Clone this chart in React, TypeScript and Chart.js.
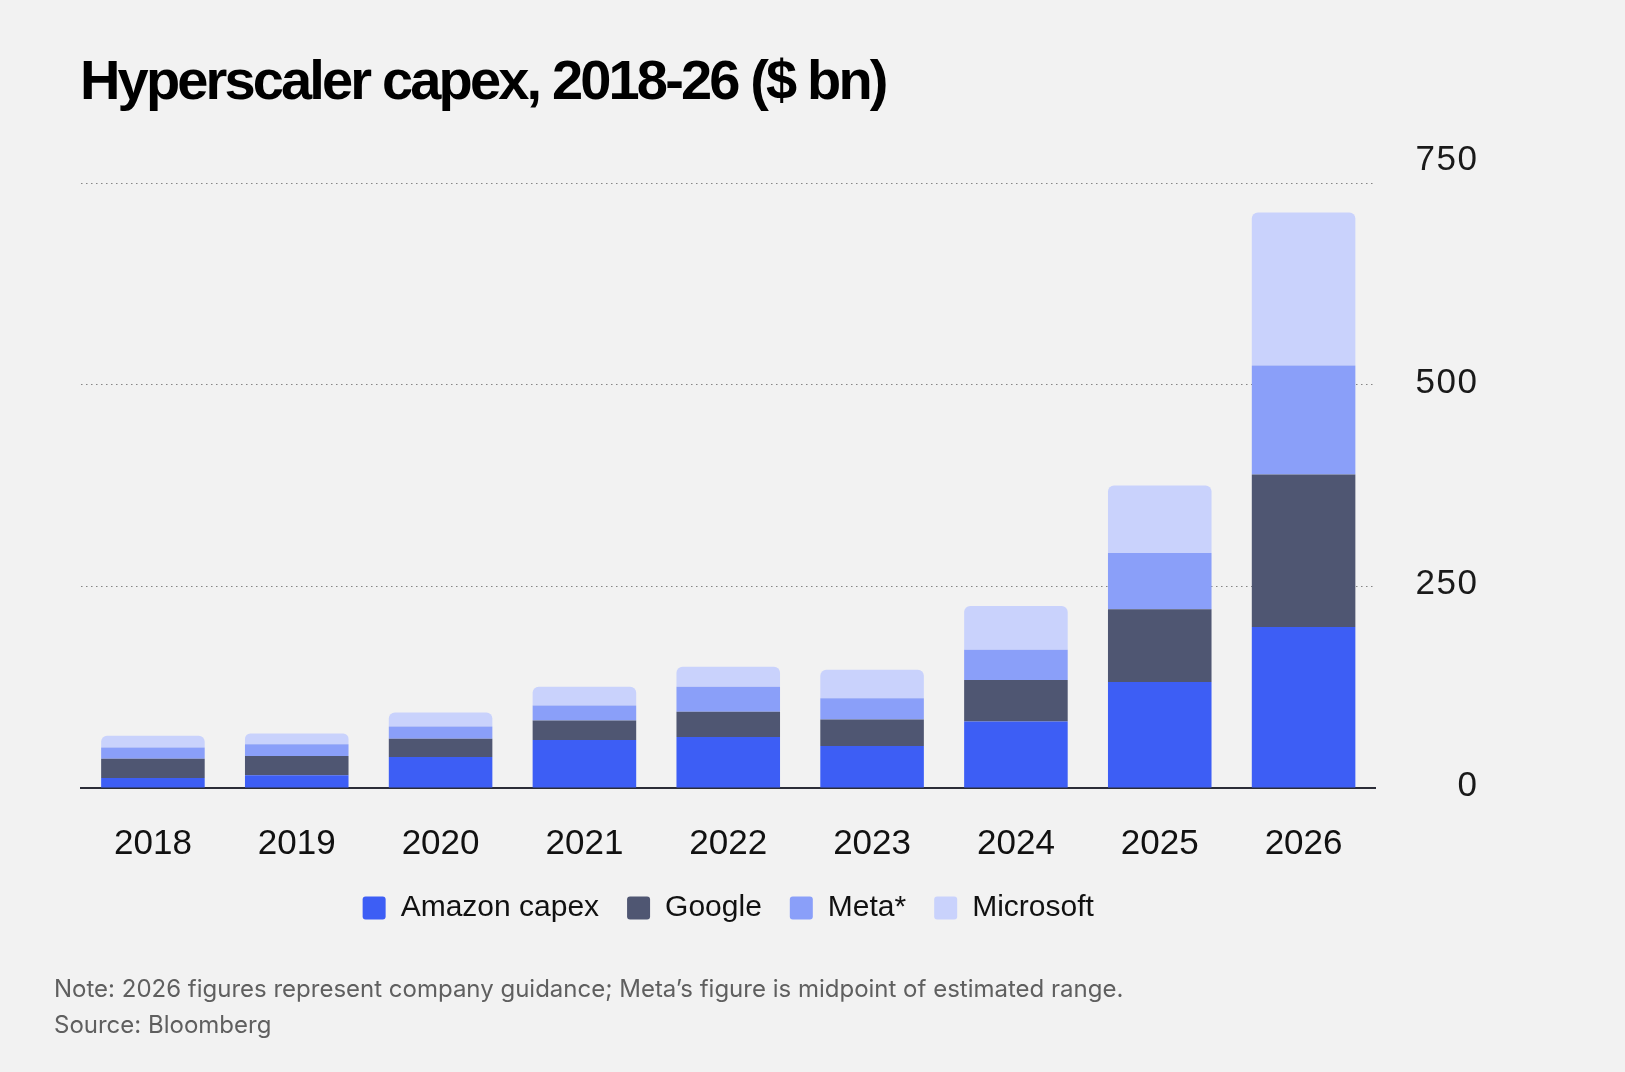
import React, { useEffect, useRef } from "react";
import { Chart, registerables } from "chart.js";

Chart.register(...registerables);

const years = ["2018", "2019", "2020", "2021", "2022", "2023", "2024", "2025", "2026"];
const amazon = [12.4, 15.7, 38.5, 59.6, 63.3, 52.2, 82.5, 131.4, 199.6];
const google = [24.0, 24.0, 22.7, 24.0, 31.1, 32.6, 51.5, 90.2, 189.0];
const meta = [13.7, 14.5, 15.0, 18.6, 31.0, 26.6, 37.4, 69.6, 135.2];
const microsoft = [14.6, 13.3, 17.3, 23.2, 24.9, 35.1, 54.1, 83.8, 189.6];
const seriesNames = ["Amazon capex", "Google", "Meta*", "Microsoft"];
const seriesColors = ["#3d5ef5", "#4f5672", "#8a9ff9", "#c9d2fc"];
const yTicks = [0, 250, 500, 750];

const titleText = "Hyperscaler capex, 2018-26 ($ bn)";
const noteText = "Note: 2026 figures represent company guidance; Meta\u2019s figure is midpoint of estimated range.";
const sourceText = "Source: Bloomberg";

const yLabelPlugin = {
  id: "yLabelPlugin",
  afterDraw(chart: any) {
    const scale = chart.scales.y;
    const ctx = chart.ctx;
    const area = chart.chartArea;
    ctx.save();
    ctx.font = '35px "Liberation Sans", Arial, sans-serif';
    try {
      (ctx as any).letterSpacing = "1.5px";
    } catch (e) {}
    ctx.fillStyle = "#1a1a1a";
    ctx.textAlign = "right";
    ctx.textBaseline = "middle";
    const top = yTicks[yTicks.length - 1];
    yTicks.forEach((v) => {
      const off = v === top ? -23 : -1.5;
      ctx.fillText(String(v), area.right + 103, scale.getPixelForValue(v) + off);
    });
    ctx.restore();
  },
};

export default function App() {
  const canvasRef = useRef<HTMLCanvasElement | null>(null);

  useEffect(() => {
    if (!canvasRef.current) return;
    Chart.defaults.font.family = '"Liberation Sans", Arial, sans-serif';
    const values = [amazon, google, meta, microsoft];
    const chart = new Chart(canvasRef.current, {
      type: "bar",
      data: {
        labels: years,
        datasets: values.map((data, i) => ({
          label: seriesNames[i],
          data,
          backgroundColor: seriesColors[i],
          borderWidth: 0,
          borderRadius: i === values.length - 1 ? 6 : 0,
          barPercentage: 0.72,
          categoryPercentage: 1,
        })),
      },
      options: {
        animation: false,
        responsive: true,
        maintainAspectRatio: false,
        layout: { padding: { top: 183, left: 81, right: 249.5, bottom: 139 } },
        plugins: {
          title: { display: false },
          tooltip: { enabled: false },
          legend: {
            display: true,
            position: "bottom",
            labels: {
              boxWidth: 23,
              boxHeight: 23,
              padding: 28,
              color: "#111111",
              useBorderRadius: true,
              borderRadius: 3,
              font: { size: 30, family: '"Liberation Sans", Arial, sans-serif' },
            },
          },
        },
        scales: {
          x: {
            stacked: true,
            z: 1,
            afterFit: (scale: any) => {
              scale.height = scale.height - 35;
            },
            grid: { display: false, drawTicks: false },
            border: { display: true, color: "#2b2d38", width: 2 },
            ticks: {
              color: "#111111",
              padding: 35,
              font: { size: 35, family: '"Liberation Sans", Arial, sans-serif' },
            },
          },
          y: {
            stacked: true,
            position: "right",
            min: 0,
            max: 750,
            ticks: { display: false, stepSize: 250 },
            grid: {
              drawTicks: false,
              lineWidth: 1,
              color: (c: any) => (c.tick && c.tick.value === 0 ? "rgba(0,0,0,0)" : "#858585"),
            },
            border: { display: false, dash: [1.5, 3.5] },
          },
        },
      },
      plugins: [yLabelPlugin],
    });
    return () => chart.destroy();
  }, []);

  return (
    <div
      style={{
        position: "absolute",
        left: 0,
        top: 0,
        width: 1625,
        height: 1072,
        background: "#f2f2f2",
        overflow: "hidden",
      }}
    >
      <div style={{ position: "absolute", left: 0, top: 0, width: 1625, height: 1072 }}>
        <canvas ref={canvasRef} />
      </div>
      <div
        style={{
          position: "absolute",
          left: 80,
          top: 52,
          fontFamily: '"Liberation Sans", Arial, sans-serif',
          fontWeight: 700,
          fontSize: 56,
          lineHeight: 1,
          letterSpacing: "-2.85px",
          color: "#000000",
          whiteSpace: "nowrap",
        }}
      >
        {titleText}
      </div>
      <div
        style={{
          position: "absolute",
          left: 54,
          top: 976.6,
          fontFamily: "Inter, sans-serif",
          fontSize: 24,
          lineHeight: 1,
          color: "#5f5f5f",
          whiteSpace: "nowrap",
        }}
      >
        {noteText}
      </div>
      <div
        style={{
          position: "absolute",
          left: 54,
          top: 1013.3,
          fontFamily: "Inter, sans-serif",
          fontSize: 24,
          lineHeight: 1,
          color: "#5f5f5f",
          whiteSpace: "nowrap",
        }}
      >
        {sourceText}
      </div>
    </div>
  );
}
